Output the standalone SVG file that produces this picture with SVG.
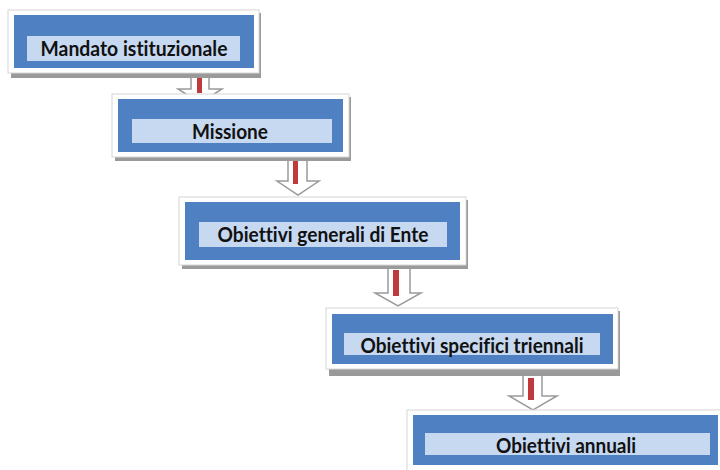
<svg xmlns="http://www.w3.org/2000/svg" width="720" height="470" viewBox="0 0 720 470">
<defs>
<style>
.shadow{fill:#9a9a9a;}
.frame{fill:#ffffff;stroke:#d6d6d6;stroke-width:1;}
.blue{fill:#4f81c2;}
.inner{fill:#c6d9f1;}
.lbl{font-family:Lato,"Liberation Sans",sans-serif;font-weight:bold;font-size:21px;fill:#111;text-anchor:middle;font-variant-ligatures:none;}
.arr{fill:#ffffff;stroke:#9a9a9a;stroke-width:1.5;stroke-linejoin:miter;}
.red{fill:#c0393b;}
</style>
</defs>
<rect width="720" height="470" fill="#ffffff"/>
<g id="connectors">
<g id="a1"><polygon class="arr" points="191,60 209,60 209,89 222,89 200,103 178,89 191,89"/><rect class="red" x="197" y="71" width="5" height="22"/></g>
<g id="a2"><polygon class="arr" points="288,145 307,145 307,181 319,181 298,195 277,181 288,181"/><rect class="red" x="293" y="158" width="5" height="26"/></g>
<g id="a3"><polygon class="arr" points="388,255 410,255 410,293 421,293 398,306 375,293 388,293"/><rect class="red" x="393" y="270" width="6" height="26"/></g>
<g id="a4"><polygon class="arr" points="523,360 542,360 542,396 557,396 533,410 509,396 523,396"/><rect class="red" x="528" y="378" width="6" height="22"/></g>
</g>
<g id="n1">
<rect class="shadow" x="11" y="13" width="250" height="65"/>
<rect class="frame" x="8" y="10" width="251" height="63"/>
<rect class="blue" x="14" y="15" width="240" height="53"/>
<rect class="inner" x="27" y="36" width="213" height="25"/>
<text class="lbl" x="134" y="56" textLength="187" lengthAdjust="spacingAndGlyphs">Mandato istituzionale</text>
</g>
<g id="n2">
<rect class="shadow" x="115" y="97" width="236" height="64"/>
<rect class="frame" x="112" y="94" width="237" height="63"/>
<rect class="blue" x="118" y="99" width="225" height="53"/>
<rect class="inner" x="132" y="119" width="200" height="24"/>
<text class="lbl" x="230" y="139" textLength="76" lengthAdjust="spacingAndGlyphs">Missione</text>
</g>
<g id="n3">
<rect class="shadow" x="182" y="200" width="286" height="69"/>
<rect class="frame" x="179" y="197" width="287" height="68"/>
<rect class="blue" x="185" y="202" width="275" height="58"/>
<rect class="inner" x="199" y="222" width="248" height="25"/>
<text class="lbl" x="323" y="242" textLength="211" lengthAdjust="spacingAndGlyphs">Obiettivi generali di Ente</text>
</g>
<g id="n4">
<rect class="shadow" x="329" y="311" width="291" height="65"/>
<rect class="frame" x="326" y="308" width="292" height="61"/>
<rect class="blue" x="332" y="314" width="281" height="50"/>
<rect class="inner" x="344" y="333" width="256" height="22"/>
<text class="lbl" x="472" y="353" textLength="223" lengthAdjust="spacingAndGlyphs">Obiettivi specifici triennali</text>
</g>
<g id="n5">
<rect class="shadow" x="410" y="413" width="320" height="70"/>
<rect class="frame" x="407" y="410" width="320" height="62"/>
<rect class="blue" x="413" y="415" width="305" height="50"/>
<rect class="inner" x="425" y="433" width="285" height="22"/>
<text class="lbl" x="566" y="453" textLength="140" lengthAdjust="spacingAndGlyphs">Obiettivi annuali</text>
</g>
</svg>
